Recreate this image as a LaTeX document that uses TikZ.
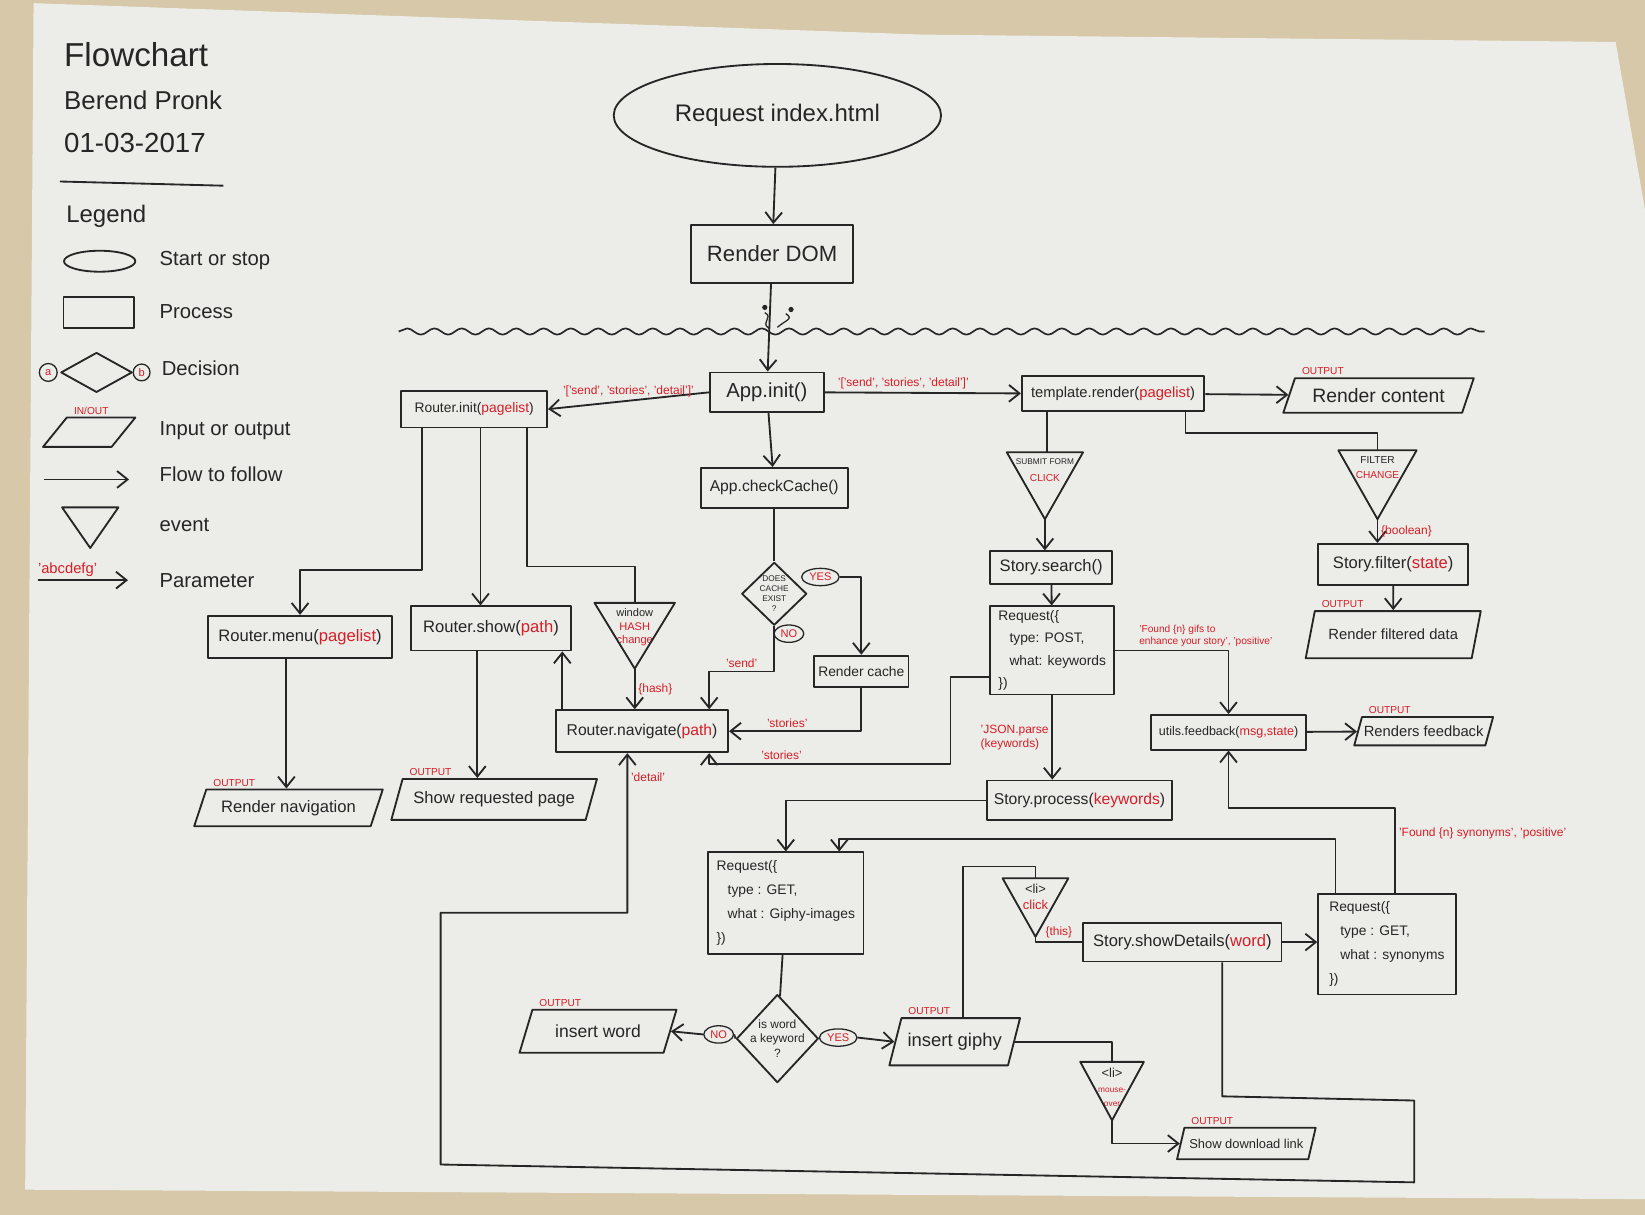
\documentclass[tikz,border=0pt]{standalone}
\usepackage{fontspec}
\setmainfont{Liberation Sans}
\usetikzlibrary{positioning,arrows.meta,shapes.geometric,decorations.pathmorphing}

\definecolor{ink}{RGB}{38,38,38}
\definecolor{penred}{RGB}{214,30,38}
\definecolor{paper}{RGB}{236,236,233}
\definecolor{desk}{RGB}{214,200,168}

\newcommand{\penfont}[1]{\fontsize{#1}{\dimexpr #1pt*6/5\relax}\selectfont}

\begin{document}
\begin{tikzpicture}[x=0.2mm, y=-0.2mm,
  every node/.style={text=ink},
  hand/.style={draw=ink, line width=1pt, line join=round},
  proc/.style={hand, rectangle, inner sep=1pt},
  startstop/.style={hand, ellipse, inner sep=0pt},
  decision/.style={hand, diamond, inner sep=0pt},
  io/.style={hand, trapezium, trapezium left angle=62, trapezium right angle=118,
             trapezium stretches=true, inner sep=1pt},
  outlbl/.style={anchor=south west, xshift=3pt, inner sep=1pt, text=penred, font=\penfont{5.5}},
  evt/.style={inner sep=0pt},
  evtxt/.style={anchor=north, align=center, inner sep=1pt, yshift=-2pt},
  ans/.style={draw=ink, line width=0.7pt, ellipse, inner sep=1.2pt, text=penred, font=\penfont{6}},
  param/.style={text=penred, font=\penfont{6.5}, inner sep=1.5pt},
  arr/.style={hand, -{Straight Barb[length=2mm, width=3.2mm]}},
  link/.style={hand},
  legtxt/.style={anchor=west, font=\penfont{11}}
]
\useasboundingbox (0,0) rectangle (1568,1158);
% desk and sheet
\fill[desk] (0,0) rectangle (1568,1158);
\fill[paper] (32,3) -- (880,33) -- (1540,40) -- (1568,200) -- (1568,1143) -- (24,1134) -- cycle;

% title block
\node[font=\penfont{18}, anchor=west] (ttl) at (55,52) {Flowchart};
\node[font=\penfont{14}, anchor=west] (auth) at (55,96) {Berend Pronk};
\node[font=\penfont{15}, anchor=west] (date) at (55,136) {01-03-2017};
\draw[hand] (57,173) -- (213,177);
\node[font=\penfont{13}, anchor=west] (leg) at (57,206) {Legend};

% legend
\node[startstop, minimum width=1.36cm, minimum height=0.4cm] (lgss) at (95,249) {};
\node[legtxt] (lgsst) at (146,248) {Start or stop};
\node[proc, minimum width=1.34cm, minimum height=0.6cm] (lgproc) at (94,298) {};
\node[legtxt] (lgproct) at (146,297) {Process};
\node[decision, minimum width=1.36cm, minimum height=0.76cm] (lgdec) at (92,355) {};
\node[ans, circle, inner sep=0pt, minimum size=0.34cm] (lga) at (46,355) {a};
\node[ans, circle, inner sep=0pt, minimum size=0.32cm] (lgb) at (135,355) {b};
\node[legtxt] (lgdect) at (148,351) {Decision};
\node[io, minimum width=1.76cm, minimum height=0.56cm] (lgio) at (85,412) {};
\node[outlbl] (lgio-out) at (lgio.top left corner) {IN/OUT};
\node[legtxt] (lgiot) at (146,410) {Input or output};
\coordinate (lgf1) at (42,457);
\coordinate (lgf2) at (123,457);
\draw[arr] (lgf1) -- (lgf2);
\node[legtxt] (lgft) at (146,452) {Flow to follow};
\node[evt, minimum width=1.06cm, minimum height=0.76cm] (lgevt) at (86,503) {};
\node[legtxt] (lgevtt) at (146,500) {event};
\coordinate (lgp1) at (36,553);
\coordinate (lgp2) at (122,553);
\draw[arr] (lgp1) -- (lgp2) node[param, pos=0.33, above, font=\penfont{8}] (lgpl) {'abcdefg'};
\node[legtxt] (lgpt) at (146,553) {Parameter};

% start and DOM
\node[startstop, minimum width=6.24cm, minimum height=1.96cm, font=\penfont{13}] (req) at (741,110) {Request index.html};
\node[proc, minimum width=3.08cm, minimum height=1.1cm, font=\penfont{12}] (dom) at (736,242) {Render DOM};

% water line
\coordinate (wl) at (380,316);
\coordinate (wr) at (1415,316);
\draw[hand, line width=0.9pt, decorate, decoration={snake, amplitude=0.6mm, segment length=5.2mm}] (wl) -- (wr);
\draw[hand, line width=0.7pt] (733,313) .. controls (724,307) and (738,303) .. (729,298);
\fill[ink] (729,293) circle (2.5);
\draw[hand, line width=0.7pt] (741,312) .. controls (749,305) and (757,304) .. (749,299);
\fill[ink] (754,295) circle (2.5);

% app and router
\node[proc, minimum width=2.18cm, minimum height=0.76cm, font=\penfont{11}] (app) at (731,374) {App.init()};
\node[proc, minimum width=2.78cm, minimum height=0.7cm, font=\penfont{7.5}] (rinit) at (452,390) {Router.init(\textcolor{penred}{pagelist})};
\node[proc, minimum width=3.48cm, minimum height=0.68cm, font=\penfont{8}] (tmpl) at (1061,375) {template.render(\textcolor{penred}{pagelist})};
\node[io, minimum width=3.66cm, minimum height=0.66cm, font=\penfont{10.5}] (rcont) at (1314,377) {Render content};
\node[proc, minimum width=2.8cm, minimum height=0.76cm, font=\penfont{8.5}] (cache) at (738,465) {App.checkCache()};
\node[decision, minimum width=1.24cm, minimum height=1.2cm, label={[font=\penfont{4.5}, align=center]center:{DOES\\CACHE\\EXIST\\?}}] (cdec) at (738,566) {};
\node[ans] (yes1) at (782,550) {YES};
\node[ans] (no1) at (752,604) {NO};
\node[proc, minimum width=1.8cm, minimum height=0.6cm, font=\penfont{7.5}] (rcache) at (821,640) {Render cache};
\node[proc, minimum width=3.28cm, minimum height=0.8cm, font=\penfont{8.5}] (rnav) at (612,697) {Router.navigate(\textcolor{penred}{path})};
\node[proc, minimum width=3.52cm, minimum height=0.8cm, font=\penfont{9}] (rmenu) at (286,607) {Router.menu(\textcolor{penred}{pagelist})};
\node[proc, minimum width=3.04cm, minimum height=0.84cm, font=\penfont{9}] (rshow) at (468,599) {Router.show(\textcolor{penred}{path})};
\node[evt, minimum width=1.52cm, minimum height=1.24cm, label={[evtxt, font=\penfont{6}]north:{window\\\textcolor{penred}{HASH}\\\textcolor{penred}{change}}}] (hash) at (605,606) {};
\node[io, minimum width=3.6cm, minimum height=0.7cm, font=\penfont{9}] (onav) at (275,770) {Render navigation};
\node[io, minimum width=3.94cm, minimum height=0.78cm, font=\penfont{9}] (opage) at (471,762) {Show requested page};

% search and filter
\node[evt, minimum width=1.44cm, minimum height=1.26cm, label={[evtxt, font=\penfont{4.5}]north:{SUBMIT FORM\\[4pt]\textcolor{penred}{\penfont{5.5}CLICK}}}] (submit) at (996,463) {};
\node[proc, minimum width=2.32cm, minimum height=0.62cm, font=\penfont{9}] (search) at (1002,541) {Story.search()};
\node[proc, minimum width=2.36cm, minimum height=1.68cm, font=\fontsize{7.5}{12}\selectfont, align=left] (post) at (1003,620) {Request(\{\\\hspace*{0.8em}type: POST,\\\hspace*{0.8em}what: keywords\\\})};
\node[proc, minimum width=2.94cm, minimum height=0.66cm, font=\penfont{6.8}] (fb) at (1171,698) {utils.feedback(\textcolor{penred}{msg,state})};
\node[io, minimum width=2.6cm, minimum height=0.54cm, font=\penfont{8}] (ofb) at (1357,697) {Renders feedback};
\node[evt, minimum width=1.48cm, minimum height=1.3cm, label={[evtxt, font=\penfont{5.5}]north:{FILTER\\[2pt]\textcolor{penred}{CHANGE}}}] (filter) at (1313,462) {};
\node[proc, minimum width=2.86cm, minimum height=0.78cm, font=\penfont{9}] (sfilter) at (1328,538) {Story.filter(\textcolor{penred}{state})};
\node[io, minimum width=3.34cm, minimum height=0.9cm, font=\penfont{8}] (ofilt) at (1328,605) {Render filtered data};
\node[proc, minimum width=3.52cm, minimum height=0.76cm, font=\penfont{8.5}] (process) at (1029,763) {Story.process(\textcolor{penred}{keywords})};

% giphy and synonyms
\node[proc, minimum width=2.96cm, minimum height=1.94cm, font=\fontsize{7.5}{13}\selectfont, align=left] (giphy) at (749,861) {Request(\{\\\hspace*{0.8em}type : GET,\\\hspace*{0.8em}what : Giphy-images\\\})};
\node[decision, minimum width=1.56cm, minimum height=1.68cm, label={[font=\penfont{6.5}, align=center]center:{is word\\a keyword\\?}}] (kdec) at (741,990) {};
\node[ans] (no2) at (685,986) {NO};
\node[ans] (yes2) at (799,989) {YES};
\node[io, minimum width=3.0cm, minimum height=0.82cm, font=\penfont{9.5}] (oword) at (570,983) {insert word};
\node[io, minimum width=2.5cm, minimum height=0.9cm, font=\penfont{10}] (ogiphy) at (910,993) {insert giphy};
\node[evt, minimum width=1.24cm, minimum height=1.1cm, label={[evtxt, font=\penfont{7}]north:{<li>\\\textcolor{penred}{click}}}] (liclick) at (987,865) {};
\node[proc, minimum width=3.78cm, minimum height=0.74cm, font=\penfont{9}] (details) at (1127,898) {Story.showDetails(\textcolor{penred}{word})};
\node[proc, minimum width=2.62cm, minimum height=1.92cm, font=\fontsize{7.5}{13}\selectfont, align=left] (syn) at (1322,900) {Request(\{\\\hspace*{0.8em}type : GET,\\\hspace*{0.8em}what : synonyms\\\})};
\node[evt, minimum width=1.2cm, minimum height=1.1cm, label={[evtxt, font=\penfont{7}]north:{<li>\\\textcolor{penred}{\penfont{4.5}mouse-}\\[-1pt]\textcolor{penred}{\penfont{4.5}over}}}] (lihover) at (1060,1040) {};
\node[io, minimum width=2.66cm, minimum height=0.6cm, font=\penfont{7}] (odl) at (1188,1090) {Show download link};

% output tags and event outlines
\foreach \o in {rcont,onav,opage,ofb,ofilt,oword,ogiphy,odl}
  \node[outlbl] (\o-out) at (\o.top left corner) {OUTPUT};
\foreach \ev in {lgevt,hash,submit,filter,liclick,lihover}
  \draw[hand] (\ev.north west) -- (\ev.north east) -- (\ev.south) -- cycle;

% main flow
\draw[arr] (req) -- (dom);
\draw[arr] (dom) -- (app);
\draw[arr] (app.west) -- (rinit.east) node[param, midway, above] (lp1) {'['send', 'stories', 'detail']'};
\draw[arr] (app.east) -- (tmpl.west) node[param, pos=0.4, above] (lp2) {'['send', 'stories', 'detail']'};
\draw[arr] (tmpl) -- (rcont);
\draw[arr] (app) -- (cache);
\draw[link] (cache) -- (cdec);
\draw[arr] (yes1.east) -| (rcache.north);
\draw[arr] (cdec.south) |- (676,640) node[param, pos=0.75, above] (lsend) {'send'} -- (676,0 |- rnav.north);
\draw[arr] (rcache.south) |- (rnav.east) node[param, pos=0.78, above] (lst1) {'stories'};
\draw[arr] (post.west |- 0,645) -- (906,645) -- (906,728) -- node[param, pos=0.7, above] (lst2) {'stories'} (676,728) -- (676,0 |- rnav.south);
\draw[arr] (details.south -| 1165,0) -- (1165,1045) -- (1348,1049) -- (1348,1127) -- (420,1110) -- (420,870) -- (598,870) -- node[param, pos=0.85, right] (ldet) {'detail'} (598,0 |- rnav.south);

% router
\draw[arr] (402,0 |- rinit.south) -- (402,543) -| (rmenu.north);
\draw[arr] (458,0 |- rinit.south) -- (458,0 |- rshow.north);
\draw[link] (502,0 |- rinit.south) -- (502,540) -| (hash.north);
\draw[arr] (hash.south) -- (hash.south |- rnav.north) node[param, midway, right] (lhash) {\{hash\}};
\draw[arr] (536,0 |- rnav.north) -- (536,0 |- rshow.south);
\draw[arr] (273,0 |- rmenu.south) -- (273,0 |- onav.north);
\draw[arr] (455,0 |- rshow.south) -- (455,0 |- opage.north);

% search, feedback, filter
\draw[link] (998,0 |- tmpl.south) -- (998,0 |- submit.north);
\draw[arr] (submit.south) -- (submit.south |- search.north);
\draw[arr] (search) -- (post);
\draw[arr] (post.east) -| (fb.north) node[param, pos=0.4, above, align=left, font=\penfont{5.5}] (lgifs) {'Found \{n\} gifs to\\enhance your story', 'positive'};
\draw[arr] (post.south) -- (post.south |- process.north) node[param, midway, left, align=left] (ljson) {'JSON.parse\\(keywords)};
\draw[arr] (fb) -- (ofb);
\draw[link] (1130,0 |- tmpl.south) -- (1130,413) -| (filter.north);
\draw[arr] (filter.south) -- (filter.south |- sfilter.north) node[param, midway, right] (lbool) {\{boolean\}};
\draw[arr] (sfilter) -- (ofilt);

% giphy, details, synonyms
\draw[arr] (process.west) -| (giphy.north);
\draw[arr] (1273,0 |- syn.north) -- (1273,800) -| (800,0 |- giphy.north);
\draw[arr] (1330,0 |- syn.north) -- node[param, pos=0.7, right] (lsyn) {'Found \{n\} synonyms', 'positive'} (1330,770) -| (fb.south);
\draw[link] (giphy) -- (kdec);
\draw[link] (kdec.west) -- (no2.east);
\draw[arr] (no2.west) -- (oword.east);
\draw[link] (kdec.east) -- (yes2.west);
\draw[arr] (yes2.east) -- (ogiphy.west);
\draw[link] (918,0 |- ogiphy.north) -- (918,826) -| (liclick.north);
\draw[link] (liclick.south) |- (details.west) node[param, pos=0.75, above] (lthis) {\{this\}};
\draw[arr] (details.east) -- (details.east -| syn.west);
\draw[link] (ogiphy.east) -| (lihover.north);
\draw[arr] (lihover.south) |- (odl.west);
\end{tikzpicture}
\end{document}
